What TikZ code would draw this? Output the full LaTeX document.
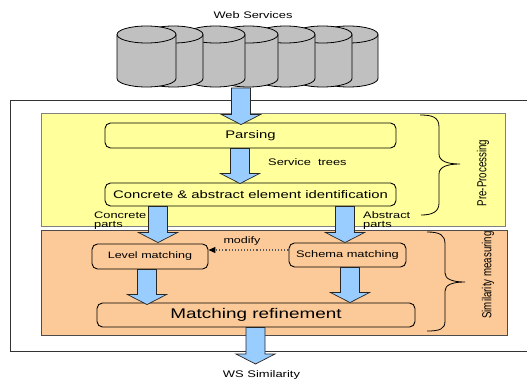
\documentclass[tikz,border=0pt]{standalone}
\usepackage{fontspec}
\setmainfont{Liberation Sans}
\newfontfamily\widesans{Liberation Sans}[FakeStretch=1.35]
\newfontfamily\plainsans{Liberation Sans}
\usetikzlibrary{calc,arrows.meta}

\definecolor{cylgray}{HTML}{C0C0C0}
\definecolor{arrowblue}{HTML}{99CCFF}
\definecolor{preyellow}{HTML}{FFFF9C}
\definecolor{simorange}{HTML}{FCCA98}

\tikzset{
  region/.style={line width=0.8pt},
  rbox/.style={draw=black, line width=0.9pt, rounded corners=5.5pt, inner sep=0pt},
  cyl/.style={draw=black, fill=cylgray, line width=0.8pt},
  blockarrow/.style={draw=black!85, fill=arrowblue, line width=0.7pt, line join=miter},
  modarrow/.style={draw=black!65, dotted, line width=1.1pt,
    -{Triangle[length=7pt,width=6pt,color=black,fill=black]}},
  bracestyle/.style={draw=black, line width=0.8pt},
  lbl/.style={inner sep=0pt}
}

% vertical block arrow: #1 = x position, #2 = start point, #3 = tip point
\newcommand{\blockarrow}[3]{%
  \path[blockarrow] let \p1=(#2), \p2=(#3) in
    ({#1pt-9.5pt},\y1) -- ({#1pt-9.5pt},{\y2+10pt}) -- ({#1pt-19.5pt},{\y2+10pt})
    -- ({#1pt},\y2) -- ({#1pt+19.5pt},{\y2+10pt}) -- ({#1pt+9.5pt},{\y2+10pt})
    -- ({#1pt+9.5pt},\y1) -- cycle;}

% cylinder given by its right edge
\newcommand{\dbcyl}[1]{%
  \filldraw[cyl] ({#1pt-59pt},-34.5pt) -- ({#1pt-59pt},-78.5pt)
    arc[start angle=180, end angle=360, x radius=29.5pt, y radius=8.5pt]
    -- (#1pt,-34.5pt)
    arc[start angle=0, end angle=180, x radius=29.5pt, y radius=8.5pt] -- cycle;
  \draw[cyl, fill=none] (#1pt,-34.5pt)
    arc[start angle=0, end angle=-180, x radius=29.5pt, y radius=8.5pt];}

\begin{document}
\begin{tikzpicture}[x=1pt, y=-1pt]
\clip (0,0) rectangle (527,380);
\fill[white] (0,0) rectangle (527,380);

% outer frame
\draw[draw=black!80, line width=0.9pt] (10,100) rectangle (545,351);

% stage regions
\draw[region, draw=black!50, fill=preyellow] (41,113) rectangle (505,226);
\draw[region, draw=black!70, fill=simorange] (41,230) rectangle (507,335);

% web service stores, front-most on the left
\dbcyl{378}
\dbcyl{352}
\dbcyl{315}
\dbcyl{278}
\dbcyl{245}
\dbcyl{203}
\dbcyl{176}
\node[lbl, font=\widesans\fontsize{9.5}{11}\selectfont] (wstitle) at (253,15.3) {Web Services};
\coordinate (wsbase) at (241,88);

% processing steps
\node[rbox, minimum width=291pt, minimum height=25pt, font=\widesans\fontsize{11}{13}\selectfont]
  (parse) at (250.5,135.5) {Parsing};
\node[rbox, minimum width=291pt, minimum height=23pt, font=\widesans\fontsize{11}{13}\selectfont]
  (ident) at (250.5,194.5) {Concrete \& abstract element identification};
\node[rbox, minimum width=116pt, minimum height=25pt, font=\widesans\fontsize{9.3}{11}\selectfont]
  (level) at (150,256.5) {Level matching};
\node[rbox, minimum width=117pt, minimum height=24pt, font=\widesans\fontsize{9.5}{11}\selectfont]
  (schema) at (347.5,255) {Schema matching};
\node[rbox, minimum width=318pt, minimum height=24pt, font=\widesans\fontsize{14}{16}\selectfont]
  (refine) at (256,315) {Matching refinement};

% labels
\node[lbl, anchor=west, font=\widesans\fontsize{9.5}{11}\selectfont] (trees) at (268,162) {Service\ \ trees};
\node[lbl, anchor=north west, align=left, font=\widesans\fontsize{9.5}{9}\selectfont]
  (cparts) at (94,211.5) {Concrete\\parts};
\node[lbl, anchor=north west, align=left, font=\widesans\fontsize{9.5}{9}\selectfont]
  (aparts) at (363,211.5) {Abstract\\parts};
\node[lbl, font=\widesans\fontsize{9.3}{11}\selectfont] (modlbl) at (242,241) {modify};
\node[lbl, font=\widesans\fontsize{9.6}{11}\selectfont] (result) at (261.5,375.3) {WS Similarity};

% stage braces and names
\draw[bracestyle] (420,115) .. controls (432,115) and (439,117) .. (439,127) -- (439,154)
  .. controls (439,161) and (447,164) .. (460,164)
  .. controls (447,164) and (439,167) .. (439,174) -- (439,203)
  .. controls (439,212) and (432,215) .. (421,215);
\draw[bracestyle] (427,232) .. controls (440,232) and (445,235) .. (445,244) -- (445,273)
  .. controls (445,279) and (452,282) .. (465,282)
  .. controls (452,282) and (445,285) .. (445,291) -- (445,321)
  .. controls (445,329) and (440,331) .. (427,331);
\node[lbl, rotate=90] (prename) at (483,173)
  {\scalebox{1}[1.35]{\plainsans\fontsize{9.7}{11}\selectfont Pre-Processing}};
\node[lbl, rotate=90] (simname) at (488,275)
  {\scalebox{1}[1.35]{\plainsans\fontsize{9.7}{11}\selectfont Similarity measuring}};

% flow
\blockarrow{241}{wsbase}{[yshift=-2pt]parse.north}
\blockarrow{240}{parse.south}{[yshift=-1pt]ident.north}
\blockarrow{158}{ident.south}{[yshift=1pt]level.north}
\blockarrow{345}{ident.south}{schema.north}
\blockarrow{147}{level.south}{[yshift=-2pt]refine.north}
\blockarrow{350}{schema.south}{refine.north}
\coordinate (wsout) at (255.5,364);
\blockarrow{255.5}{refine.south}{wsout}

\draw[modarrow] ([yshift=5pt]schema.west) -- ([yshift=5pt]schema.west -| level.east);
\end{tikzpicture}
\end{document}
